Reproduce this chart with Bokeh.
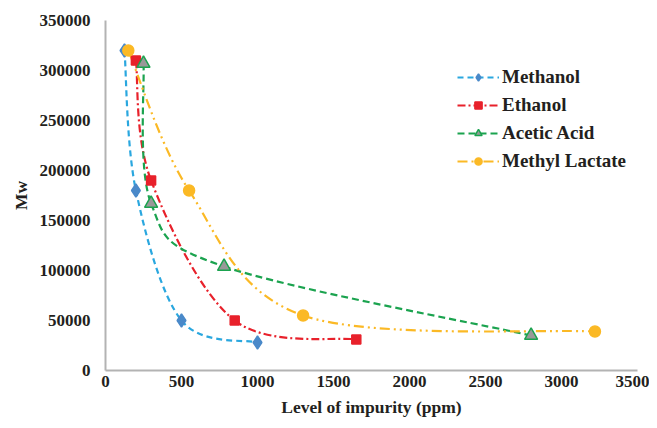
from bokeh.plotting import figure
from bokeh.models import ColumnDataSource, Legend, LegendItem, Range1d, FixedTicker, NumeralTickFormatter
from bokeh.embed import file_html
from bokeh.resources import INLINE

# ---- data ----
methanol_x = [125, 200, 500, 1000]
methanol_y = [320000, 180000, 50000, 28000]
ethanol_x = [200, 300, 850, 1650]
ethanol_y = [310000, 190000, 50000, 31000]
acetic_x = [250, 300, 780, 2800]
acetic_y = [307000, 167000, 104000, 35000]
lactate_x = [150, 550, 1300, 3220]
lactate_y = [320000, 180000, 55000, 39000]

x_ticks = [0, 500, 1000, 1500, 2000, 2500, 3000, 3500]
y_ticks = [0, 50000, 100000, 150000, 200000, 250000, 300000, 350000]

FONT = "Liberation Serif"

p = figure(frame_width=532, frame_height=350, output_backend="svg", toolbar_location=None,
           x_range=Range1d(0, 3500), y_range=Range1d(0, 350000),
           min_border_left=105, min_border_right=12, min_border_top=20, min_border_bottom=10)
p.outline_line_color = None
p.xgrid.grid_line_color = None
p.ygrid.grid_line_color = None

for ax in (p.xaxis[0], p.yaxis[0]):
    ax.axis_line_color = "#b3b3b3"
    ax.axis_line_width = 2
    ax.major_tick_line_color = None
    ax.minor_tick_line_color = None
    ax.major_tick_out = 0
    ax.major_tick_in = 0
    ax.minor_tick_out = 0
    ax.minor_tick_in = 0
    ax.major_label_text_font = FONT
    ax.major_label_text_font_style = "bold"
    ax.major_label_text_font_size = "17px"
    ax.major_label_text_color = "#231f20"
    ax.axis_label_text_font = FONT
    ax.axis_label_text_font_style = "bold"
    ax.axis_label_text_font_size = "17.5px"
    ax.axis_label_text_color = "#231f20"

p.xaxis.ticker = FixedTicker(ticks=x_ticks)
p.yaxis.ticker = FixedTicker(ticks=y_ticks)
p.xaxis.formatter = NumeralTickFormatter(format="0")
p.yaxis.formatter = NumeralTickFormatter(format="0")
p.xaxis.axis_label = "Level of impurity (ppm)"
p.yaxis.axis_label = "Mw"
p.xaxis.major_label_standoff = 5
p.yaxis.major_label_standoff = 15
p.xaxis.axis_label_standoff = 7
p.yaxis.axis_label_standoff = 6


def smooth(xs, ys, t=1.0 / 6.0):
    # Excel-like smoothed line: cubic Bezier control points from neighbours
    n = len(xs)
    d = dict(x0=[], y0=[], x1=[], y1=[], cx0=[], cy0=[], cx1=[], cy1=[])
    for i in range(n - 1):
        xp, yp = (xs[i - 1], ys[i - 1]) if i > 0 else (xs[i], ys[i])
        xn, yn = (xs[i + 2], ys[i + 2]) if i + 2 < n else (xs[i + 1], ys[i + 1])
        d["x0"].append(xs[i]); d["y0"].append(ys[i])
        d["x1"].append(xs[i + 1]); d["y1"].append(ys[i + 1])
        d["cx0"].append(xs[i] + (xs[i + 1] - xp) * t)
        d["cy0"].append(ys[i] + (ys[i + 1] - yp) * t)
        d["cx1"].append(xs[i + 1] - (xn - xs[i]) * t)
        d["cy1"].append(ys[i + 1] - (yn - ys[i]) * t)
    return ColumnDataSource(d)


# name, x, y, line colour, dash, marker, fill, marker outline, size
series = [
    ("Methanol", methanol_x, methanol_y, "#2aa7df", "6 4", "diamond", "#4a89c9", "#4a89c9", 13),
    ("Ethanol", ethanol_x, ethanol_y, "#e8212b", "8 3 2 3", "square", "#e8212b", "#e8212b", 9),
    ("Acetic Acid", acetic_x, acetic_y, "#1ba34f", "7 4", "triangle", "#999999", "#1ba34f", 13),
    ("Methyl Lactate", lactate_x, lactate_y, "#fbb925", "10 4 2 4 2 4", "circle", "#fbb925", "#fbb925", 11),
]

items = []
for name, xs, ys, lc, dash, marker, fc, mc, size in series:
    p.bezier(x0="x0", y0="y0", x1="x1", y1="y1", cx0="cx0", cy0="cy0", cx1="cx1", cy1="cy1",
             source=smooth(xs, ys), line_color=lc, line_width=2.2, line_dash=dash)
for name, xs, ys, lc, dash, marker, fc, mc, size in series:
    # single-point line: invisible on the plot, used only as the legend swatch
    r_l = p.line(x=xs[:1], y=ys[:1], line_color=lc, line_width=2.2, line_dash=dash)
    r_m = p.scatter(xs, ys, marker=marker, size=size, fill_color=fc, line_color=mc, line_width=1.5)
    items.append(LegendItem(label=name, renderers=[r_l, r_m]))

legend = Legend(items=items, location=(352, 198))
legend.glyph_width = 42
legend.glyph_height = 18
legend.spacing = 6
legend.label_text_font = FONT
legend.label_text_font_style = "bold"
legend.label_text_font_size = "19px"
legend.label_text_color = "#231f20"
legend.label_standoff = 3
legend.border_line_color = None
legend.background_fill_alpha = 0
p.add_layout(legend, "center")

open("out.html", "w").write(file_html(p, INLINE))
